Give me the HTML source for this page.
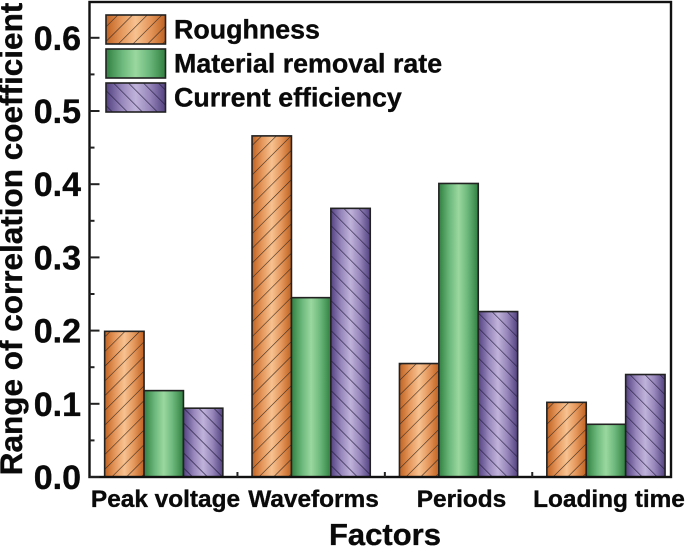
<!DOCTYPE html>
<html>
<head>
<meta charset="utf-8">
<style>
html,body{margin:0;padding:0;background:#fff;width:685px;height:548px;overflow:hidden}
svg{display:block}
text{font-family:"Liberation Sans",sans-serif;font-weight:bold;fill:#0a0a0a;stroke:#0a0a0a;stroke-width:.35px}
</style>
</head>
<body>
<svg id="chart" xmlns="http://www.w3.org/2000/svg" width="685" height="548" viewBox="0 0 685 548">
<defs>
<linearGradient id="g-rough" x1="0" x2="1" y1="0" y2="0"><stop offset="0" stop-color="#bf6222"/><stop offset=".25" stop-color="#e4965a"/><stop offset=".5" stop-color="#f7c290"/><stop offset=".75" stop-color="#e4965a"/><stop offset="1" stop-color="#bf6222"/></linearGradient>
<linearGradient id="g-mrr" x1="0" x2="1" y1="0" y2="0"><stop offset="0" stop-color="#318040"/><stop offset=".27" stop-color="#6cb87c"/><stop offset=".5" stop-color="#9ad89f"/><stop offset=".73" stop-color="#6cb87c"/><stop offset="1" stop-color="#318040"/></linearGradient>
<linearGradient id="g-cur" x1="0" x2="1" y1="0" y2="0"><stop offset="0" stop-color="#524180"/><stop offset=".27" stop-color="#9888bc"/><stop offset=".5" stop-color="#c0b3da"/><stop offset=".73" stop-color="#9888bc"/><stop offset="1" stop-color="#524180"/></linearGradient>
<pattern id="h-rough" patternUnits="userSpaceOnUse" width="10.4" height="10.4" patternTransform="rotate(45)"><line x1="0" y1="0" x2="0" y2="10.4" stroke="#3a2a20" stroke-width="1.2"/></pattern>
<pattern id="h-cur" patternUnits="userSpaceOnUse" width="10.6" height="10.6" patternTransform="rotate(-45)"><line x1="0" y1="0" x2="0" y2="10.6" stroke="#1e1838" stroke-width="1.2"/></pattern>
</defs>
<g id="bars"></g>
<g id="axes"></g>
<g id="legend"></g>
</svg>
<script>
const categories = ["Peak voltage", "Waveforms", "Periods", "Loading time"];
const roughness = [0.199, 0.466, 0.155, 0.102];
const materialRemovalRate = [0.118, 0.245, 0.401, 0.072];
const currentEfficiency = [0.094, 0.367, 0.226, 0.140];
const seriesNames = ["Roughness", "Material removal rate", "Current efficiency"];
const yTickLabels = ["0.0", "0.1", "0.2", "0.3", "0.4", "0.5", "0.6"];

const NS = "http://www.w3.org/2000/svg";
const plot = {left: 89.5, right: 671, top: 2, bottom: 477};
const yUnit = 732;
const groupStart = 163.75, groupStep = 147.4, barWidth = 39.4;
function yScale(v) { return plot.bottom - v * yUnit; }
function xScale(i) { return groupStart + i * groupStep; }
function make(tag, attrs, parent, txt) {
  const el = document.createElementNS(NS, tag);
  for (const k in attrs) el.setAttribute(k, attrs[k]);
  if (txt !== undefined) el.textContent = txt;
  parent.appendChild(el);
  return el;
}
const barsG = document.getElementById("bars");
const axesG = document.getElementById("axes");
const legendG = document.getElementById("legend");
const seriesData = [roughness, materialRemovalRate, currentEfficiency];
const seriesKeys = ["rough", "mrr", "cur"];

function shape(x, y, w, h, key, parent, name) {
  const g = make("g", {}, parent);
  
  
  const grad = make("linearGradient", {id: "b" + name, x1: 0, x2: 1, y1: 0, y2: 0}, g);
  grad.setAttribute("href", "#g-" + key);
  make("rect", {x: x, y: y, width: w, height: h, fill: "url(#b" + name + ")"}, g);
  if (key !== "mrr") make("rect", {x: x, y: y, width: w, height: h, fill: "url(#h-" + key + ")"}, g);
  make("rect", {x: x, y: y, width: w, height: h, fill: "none", stroke: "#222", "stroke-width": 1.6}, g);
}

seriesData.forEach(function (vals, s) {
  vals.forEach(function (v, i) {
    const x = xScale(i) + (s - 1.5) * barWidth;
    shape(x, yScale(v), barWidth, plot.bottom - yScale(v), seriesKeys[s], barsG, "bar-" + seriesKeys[s] + "-" + i);
  });
});

const frame = make("rect", {x: plot.left, y: plot.top, width: plot.right - plot.left, height: plot.bottom - plot.top, fill: "none", stroke: "#111", "stroke-width": 2.4}, axesG);



yTickLabels.forEach(function (lab, i) {
  const v = parseFloat(lab);
  const y = yScale(v);
  const t = make("line", {x1: plot.left, x2: plot.left + 10, y1: y, y2: y, stroke: "#222", "stroke-width": 2}, axesG);
  
  
  if (i < yTickLabels.length - 1) {
    const ym = yScale(v + 0.05);
    const m = make("line", {x1: plot.left, x2: plot.left + 5, y1: ym, y2: ym, stroke: "#222", "stroke-width": 2}, axesG);
    
    
  }
  const tl = make("text", {x: 81, y: y + 12, "text-anchor": "end", "font-size": 34}, axesG, lab);
  
  
});

categories.forEach(function (c, i) {
  const x = xScale(i);
  if (i < categories.length - 1) {
    const xm = x + groupStep / 2;
    const m = make("line", {x1: xm, x2: xm, y1: plot.bottom, y2: plot.bottom - 5, stroke: "#222", "stroke-width": 2}, axesG);
    
    
  }
  const labelX = [165.5, 313.5, 461.5, 609][i];
  const tl = make("text", {x: labelX, y: 507, "text-anchor": "middle", "font-size": 24.4}, axesG, c);
  
  
});

const xTitle = make("text", {x: 385, y: 545, "text-anchor": "middle", "font-size": 31}, axesG, "Factors");


const yTitle = make("text", {x: 0, y: 0, "text-anchor": "middle", "font-size": 31.5, transform: "translate(22 239) rotate(-90)"}, axesG, "Range of correlation coefficient");



seriesNames.forEach(function (n, s) {
  const y = 15 + s * 34;
  shape(106, y, 59.5, 29, seriesKeys[s], legendG, "legend-swatch-" + seriesKeys[s]);
  const t = make("text", {x: 174, y: y + 23.5, "font-size": 26.8}, legendG, n);
  
  
});
</script>
</body>
</html>
